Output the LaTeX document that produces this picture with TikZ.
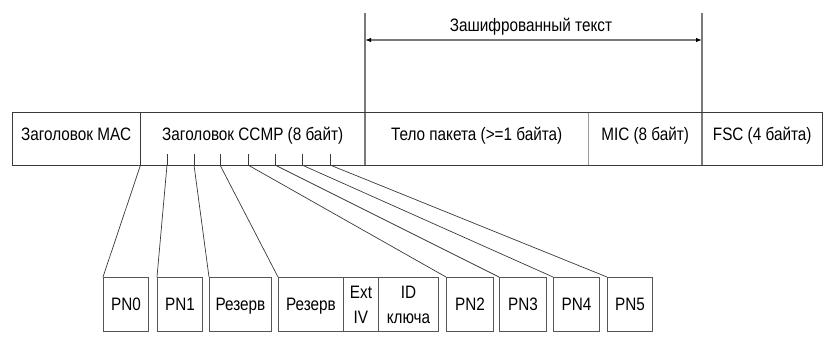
\documentclass[tikz,border=0pt]{standalone}
\usepackage{fontspec}
\setmainfont{Liberation Sans}[FakeStretch=0.85]
\usetikzlibrary{arrows.meta}
\definecolor{linec}{HTML}{3A3A3A}
\definecolor{grayc}{HTML}{7A7A7A}
\definecolor{lightc}{HTML}{9A9A9A}
\definecolor{boxc}{HTML}{555555}
\begin{document}
\begin{tikzpicture}[x=1pt,y=-1pt,
  every node/.style={font=\fontsize{18}{22}\selectfont},
  seg/.style={minimum width=#1, minimum height=53pt, inner sep=0pt, anchor=north west, text height=12pt, text depth=9pt},
  bxbase/.style={draw=boxc, line width=0.9pt, minimum width=#1, minimum height=54pt, inner sep=0pt, anchor=north west},
  bx/.style={bxbase=#1, text height=13pt, text depth=0pt},
  bx2/.style={bxbase=#1, align=center, font=\fontsize{18}{25}\selectfont},
  frame/.style={draw=linec, line width=1pt},
  vline/.style={draw=grayc, line width=1.2pt},
  fan/.style={draw=linec, line width=0.7pt},
  tick/.style={draw=linec, line width=0.8pt}]
\useasboundingbox[fill=white] (0,0) rectangle (826,340);

% top bar segments
\node[seg=128pt] (mac)  at (12,112)  {Заголовок MAC};
\node[seg=225pt] (ccmp) at (140,112) {Заголовок CCMP (8 байт)};
\node[seg=223pt] (body) at (365,112) {Тело пакета (>=1 байта)};
\node[seg=114pt] (mic)  at (588,112) {MIC (8 байт)};
\node[seg=120pt] (fsc)  at (702,112) {FSC (4 байта)};

% encrypted span
\coordinate (v1) at (365,13);
\coordinate (v2) at (702,13);
\coordinate (a1) at (365,40);
\coordinate (a2) at (702,40);
\draw[vline] (v1) -- (body.south west);
\draw[vline] (v2) -- (fsc.south west);
\draw[vline, {Latex[length=6pt,width=4.5pt,color=black]}-{Latex[length=6pt,width=4.5pt,color=black]}] (a1) -- (a2);
\node (enc) at (531,27) {Зашифрованный текст};

% frame and dividers
\draw[draw=lightc, line width=0.8pt] (mic.north west) -- (mic.south west);
\draw[frame] (mac.north east) -- (mac.south east);
\draw[frame] (mac.north west) rectangle (fsc.south east);

% ticks under CCMP header
\coordinate (t1) at (167,165);
\coordinate (t2) at (194,165);
\coordinate (t3) at (220,165);
\coordinate (t4) at (248,165);
\coordinate (t5) at (275,165);
\coordinate (t6) at (302,165);
\coordinate (t7) at (330,165);
\foreach \t in {t1,t2,t3,t4,t5,t6,t7} \draw[tick] (\t) -- ++(0,-11);

% bottom boxes
\node[bx=45pt]  (pn0)  at (103,277) {PN0};
\node[bx=45pt]  (pn1)  at (157,277) {PN1};
\node[bx=62pt]  (rez1) at (209,277) {Резерв};
\node[bx=65pt]  (rez2) at (278,277) {Резерв};
\node[bx2=35pt] (ext)  at (343,277) {Ext\\IV};
\node[bx2=60pt] (kid)  at (378,277) {ID\\ключа};
\node[bx=47pt]  (pn2)  at (446,277) {PN2};
\node[bx=47pt]  (pn3)  at (499,277) {PN3};
\node[bx=46pt]  (pn4)  at (553,277) {PN4};
\node[bx=45pt]  (pn5)  at (607,277) {PN5};

% fan lines
\draw[fan] (mac.south east) -- (pn0.north west);
\draw[fan] (t1) -- (pn1.north west);
\draw[fan] (t2) -- (rez1.north west);
\draw[fan] (t3) -- (rez2.north west);
\draw[fan] (t4) -- (pn2.north west);
\draw[fan] (t5) -- (pn3.north west);
\draw[fan] (t6) -- (pn4.north west);
\draw[fan] (t7) -- (pn5.north west);
\end{tikzpicture}
\end{document}
